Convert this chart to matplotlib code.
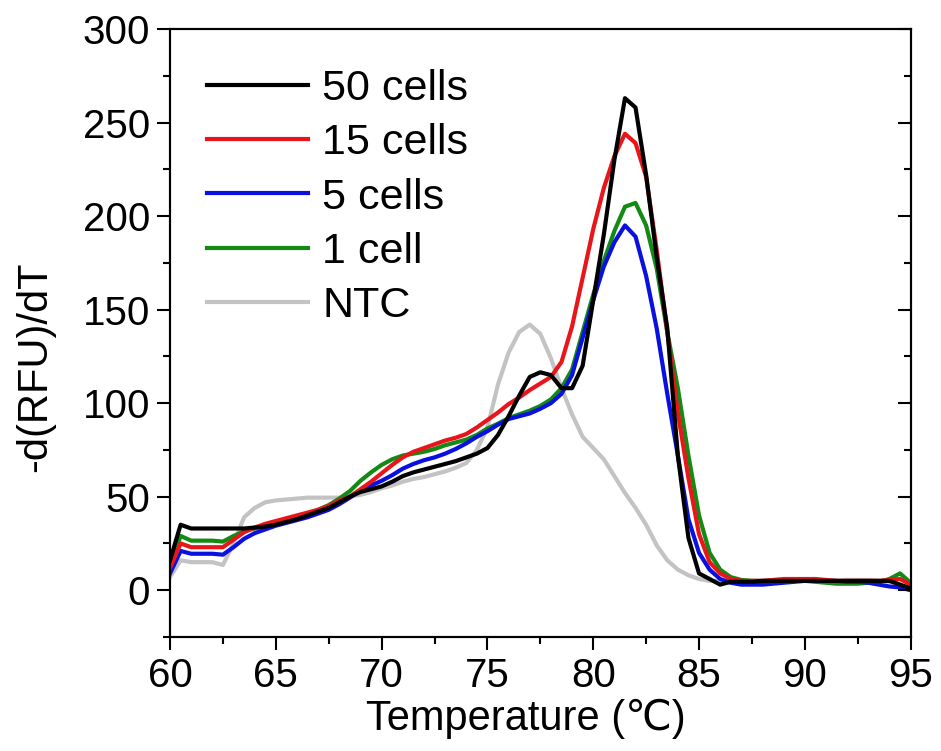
import numpy as np
import matplotlib
matplotlib.use("Agg")
import matplotlib.pyplot as plt
from matplotlib.ticker import MultipleLocator

plt.rcParams['font.family'] = ['Liberation Sans', 'DejaVu Sans']

# melt temperature (0.5 degC steps)
temperature = np.arange(60.0, 95.01, 0.5)

cells_50 = [16, 35, 33, 33, 33, 33, 33, 33, 33.5, 34, 35, 36.5, 38, 40, 42, 44, 47, 50, 52.5, 54,
            55.5, 58, 61, 63, 64.5, 66, 67.5, 69, 71, 73, 76, 83, 93, 104, 114, 116.5, 115, 108, 108, 120,
            155, 190, 230, 263, 258, 222, 178, 140, 72, 28, 9, 6, 3, 4.5, 4.5, 4.5, 5, 5, 5, 5,
            5, 5, 5, 5, 5, 5, 5, 5, 5, 3, 1]
cells_15 = [12, 25, 23, 23, 23, 23, 27, 31, 33.5, 35.5, 37, 38.5, 40, 41.5, 43, 45, 48, 50, 54, 58,
            62.5, 67, 71, 74, 76, 78, 80, 81.5, 83.5, 87, 91, 95, 99.5, 103, 107, 110.5, 114, 122, 141, 167,
            193, 215, 232, 244, 239, 221, 182, 138, 95, 60, 30, 15, 9, 6, 5, 5, 5, 5.5, 6, 6,
            6, 6, 5.5, 5, 5, 5, 5, 5, 5.5, 6, 3]
cells_5 = [9, 21, 19.5, 19.5, 19.5, 19, 23, 27.5, 30.5, 32.5, 34.5, 36, 37.5, 39, 41, 43, 46, 49.5, 53.5, 56,
           58.5, 61.5, 65, 67.5, 69.5, 71, 73, 75.5, 78.5, 82, 85, 88.5, 91.5, 93, 94.5, 97, 100, 105, 115, 135,
           155, 173, 186, 195, 189, 168, 140, 105, 72, 38, 20, 11, 6, 4, 3, 3, 3, 3.5, 4, 4.5,
           5, 5, 5, 5, 4.5, 4.5, 4, 3, 2, 1.5, 0]
cell_1 = [13, 29, 26.5, 26.5, 26.5, 26, 29, 31.5, 33, 34.5, 36, 38, 39.5, 41, 43, 45.5, 49, 53, 58.5, 63,
          67, 70, 72, 73, 74, 75.5, 77.5, 79, 80.5, 83, 86.5, 89, 92, 94, 96, 98.5, 102, 108, 118, 138,
          158, 176, 192, 205, 207, 195, 172, 138, 108, 72, 40, 20, 11, 7, 5.5, 5, 5, 5, 5, 5,
          5, 4.5, 4, 3.5, 3.5, 3.5, 4, 4.5, 6, 9, 4]
ntc = [7, 16, 15, 15, 15, 13.5, 25, 39, 44, 47, 48, 48.5, 49, 49.5, 49.5, 49.5, 49.5, 50, 51, 52.5,
       54.5, 56, 58, 59.5, 60.5, 62, 63.5, 65.5, 68, 75, 87, 110, 127, 138, 142, 137, 124, 108, 94, 82,
       76, 70, 61, 52, 44, 35, 24, 16, 11, 8, 6, 5, 5, 5, 5, 5, 5, 5, 5, 5,
       5, 5, 5, 5, 5.5, 5.5, 5.5, 5, 4.5, 3, 0.5]

series = [
    ("50 cells", cells_50, "black"),
    ("15 cells", cells_15, "#e8161b"),
    ("5 cells", cells_5, "#0a10e0"),
    ("1 cell", cell_1, "#138a13"),
    ("NTC", ntc, "#c3c3c3"),
]

fig = plt.figure(figsize=(9.41, 7.51), dpi=100)
ax = fig.add_axes([0.1807, 0.1518, 0.787, 0.8096])

# draw NTC first so the sample curves sit on top of it
for label, vals, col in reversed(series):
    ax.plot(temperature, vals, color=col, lw=3, label=label)

ax.set_xlim(60, 95)
ax.set_ylim(-25, 300)
ax.xaxis.set_major_locator(MultipleLocator(5))
ax.xaxis.set_minor_locator(MultipleLocator(2.5))
ax.yaxis.set_major_locator(MultipleLocator(50))
ax.yaxis.set_minor_locator(MultipleLocator(25))

ax.tick_params(which='both', direction='out', width=1.5, labelsize=29, top=False, right=False)
ax.tick_params(which='major', length=9.5, pad=5)
ax.tick_params(which='minor', length=5)
for sp in ax.spines.values():
    sp.set_linewidth(1.5)

# inward ticks on the right side
ax2 = ax.twinx()
ax2.set_ylim(ax.get_ylim())
ax2.yaxis.set_major_locator(MultipleLocator(50))
ax2.yaxis.set_minor_locator(MultipleLocator(25))
ax2.tick_params(which='both', direction='in', width=1.5, labelright=False)
ax2.tick_params(which='major', length=9.5)
ax2.tick_params(which='minor', length=5)
for sp in ax2.spines.values():
    sp.set_linewidth(1.5)

ax.set_xlabel("Temperature (℃)", fontsize=30)
ax.set_ylabel("-d(RFU)/dT", fontsize=30)
ax.xaxis.set_label_coords(0.48, -0.102)
ax.yaxis.set_label_coords(-0.155, 0.444)

handles, labels = ax.get_legend_handles_labels()
ax.legend(handles[::-1], labels[::-1], loc='upper left', bbox_to_anchor=(0.05, 0.934),
          frameon=False, fontsize=31, handlelength=2.35, handletextpad=0.33,
          labelspacing=0.33, borderpad=0, borderaxespad=0)

fig.savefig("out.png", dpi=100)
